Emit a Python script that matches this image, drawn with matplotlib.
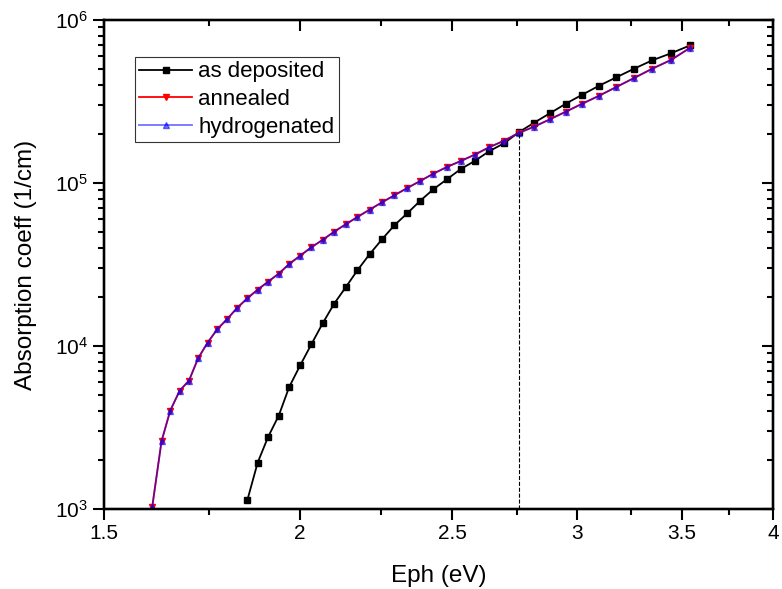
import matplotlib
matplotlib.use('Agg')
import matplotlib.pyplot as plt
from matplotlib.ticker import FixedLocator, NullFormatter, LogLocator, FixedFormatter

plt.rcParams['font.family'] = ['Liberation Sans', 'DejaVu Sans']
plt.rcParams['mathtext.default'] = 'regular'

# photon energy (eV)
eph = [1.610, 1.632, 1.653, 1.676, 1.699, 1.722, 1.746, 1.771, 1.797, 1.824,
       1.851, 1.879, 1.908, 1.938, 1.968, 2.000, 2.033, 2.067, 2.102, 2.138,
       2.175, 2.214, 2.255, 2.296, 2.340, 2.385, 2.431, 2.480, 2.531, 2.583,
       2.638, 2.696, 2.756, 2.818, 2.884, 2.952, 3.024, 3.100, 3.179, 3.263,
       3.351, 3.444, 3.543]

# as deposited starts at 1.851 eV
eph_dep = eph[10:]
as_deposited = [1136, 1923, 2765, 3736, 5604, 7612, 10243, 13780, 18170, 22910,
                29130, 36520, 45140, 55020, 65190, 77860, 91490, 105370, 121860, 136460,
                156470, 175000, 205000, 234400, 267700, 306500, 348100, 395400, 445000, 502600,
                566000, 624800, 699600]

annealed = [1033, 2602, 4009, 5318, 6124, 8405, 10477, 12662, 14640, 17180,
            19615, 22150, 24800, 27770, 31850, 35810, 40320, 44800, 50240, 55800,
            61860, 68580, 76130, 84040, 93180, 102900, 114050, 125400, 136460, 149150,
            165580, 181500, 203000, 221500, 245900, 273800, 306500, 343200, 388100, 440800,
            502600, 568400, 676100]
hydrogenated = list(annealed)

x_ticks = [1.5, 2, 2.5, 3, 3.5, 4]
x_labels = ['1.5', '2', '2.5', '3', '3.5', '4']
x_minor = [1.75, 2.25, 2.75, 3.25, 3.75]
cross_e = 2.756
cross_a = 204000

fig = plt.figure(figsize=(7.82, 5.89), dpi=100)
ax = fig.add_axes([0.133, 0.136, 0.8555, 0.83])

ax.plot(eph_dep, as_deposited, '-s', color='black', lw=1.3, ms=4.5, label='as deposited')
ax.plot(eph, annealed, '-v', color='red', lw=1.3, ms=4.5, label='annealed')
ax.plot(eph, hydrogenated, '-^', color='blue', alpha=0.55, lw=1.3, ms=4.5, label='hydrogenated')
ax.plot([cross_e, cross_e], [1000, cross_a], '--', color='black', lw=0.8)

ax.set_xscale('log')
ax.set_yscale('log')
ax.set_xlim(1.5, 4)
ax.set_ylim(1e3, 1e6)

ax.xaxis.set_major_locator(FixedLocator(x_ticks))
ax.xaxis.set_major_formatter(FixedFormatter(x_labels))
ax.xaxis.set_minor_locator(FixedLocator(x_minor))
ax.xaxis.set_minor_formatter(NullFormatter())
ax.yaxis.set_major_locator(LogLocator(base=10, numticks=10))
ax.yaxis.set_minor_locator(LogLocator(base=10, subs=range(2, 10), numticks=10))
ax.yaxis.set_minor_formatter(NullFormatter())

ax.tick_params(which='major', direction='out', length=8, width=1.5, labelsize=15)
ax.tick_params(which='minor', direction='out', length=4.5, width=1.5)
ax.tick_params(axis='x', which='major', pad=3)
for s in ax.spines.values():
    s.set_linewidth(1.6)

# mirrored ticks pointing inward on top and right
axt = ax.twiny()
axt.set_xscale('log')
axt.set_xlim(ax.get_xlim())
axt.xaxis.set_major_locator(FixedLocator(x_ticks))
axt.xaxis.set_minor_locator(FixedLocator(x_minor))
axt.xaxis.set_major_formatter(NullFormatter())
axt.xaxis.set_minor_formatter(NullFormatter())
axt.tick_params(which='major', direction='in', length=8, width=1.5)
axt.tick_params(which='minor', direction='in', length=4.5, width=1.5)
axr = ax.twinx()
axr.set_yscale('log')
axr.set_ylim(ax.get_ylim())
axr.yaxis.set_major_locator(LogLocator(base=10, numticks=10))
axr.yaxis.set_minor_locator(LogLocator(base=10, subs=range(2, 10), numticks=10))
axr.yaxis.set_major_formatter(NullFormatter())
axr.yaxis.set_minor_formatter(NullFormatter())
axr.tick_params(which='major', direction='in', length=8, width=1.5)
axr.tick_params(which='minor', direction='in', length=4.5, width=1.5)
for a in (axt, axr):
    for s in a.spines.values():
        s.set_linewidth(1.6)

ax.set_xlabel('Eph (eV)', fontsize=17.5, labelpad=16)
ax.set_ylabel('Absorption coeff (1/cm)', fontsize=17.5, labelpad=13)

leg = ax.legend(loc='upper left', bbox_to_anchor=(0.0463, 0.9243), fontsize=16,
                frameon=True, fancybox=False, edgecolor='black', borderpad=0.2,
                handlelength=2.35, labelspacing=0.3, handletextpad=0.3, borderaxespad=0)
leg.get_frame().set_linewidth(0.8)

fig.savefig('out.png', dpi=100)
